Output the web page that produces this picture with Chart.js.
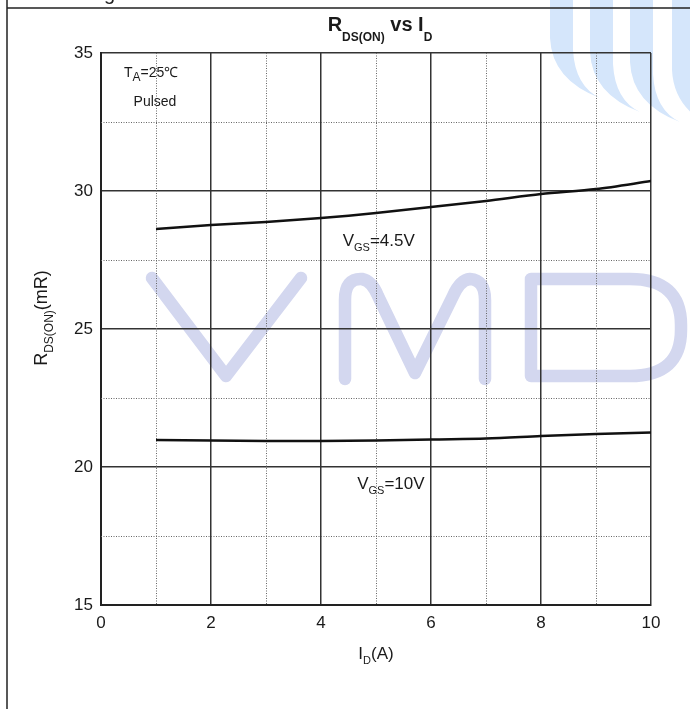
<!DOCTYPE html>
<html>
<head>
<meta charset="utf-8">
<script src="https://cdn.jsdelivr.net/npm/chart.js@4"></script>
<style>
  body { margin: 0; background: #fff; }
  canvas { display: block; }
</style>
</head>
<body>
<canvas id="rds-chart" width="690" height="709"></canvas>
<script>
const FONT = '"Liberation Sans", Arial, sans-serif';

// drain current (A) and on-resistance (mR) for both gate drives
const currents = [1, 2, 3, 4, 5, 6, 7, 8, 9, 10];
const rdsVgs45 = [28.62, 28.77, 28.88, 29.02, 29.2, 29.42, 29.64, 29.89, 30.07, 30.36];
const rdsVgs10 = [20.98, 20.96, 20.94, 20.94, 20.96, 21.0, 21.03, 21.12, 21.2, 21.25];

// axis ranges and tick steps
const xRange = [0, 10];
const yRange = [15, 35];
const xStep = 1;
const yStep = 2.5;

function toPoints(ys) {
    return currents.map((x, i) => ({ x: x, y: ys[i] }));
}

// draws text where some pieces are subscripts, e.g. [["R"], ["DS(ON)", true]]
function drawParts(ctx, parts, x, y, opts) {
    const size = opts.size;
    const subSize = opts.subSize || Math.round(size * 0.68);
    const weight = opts.bold ? "bold " : "";
    const drop = opts.drop || size * 0.35;
    let total = 0;
    parts.forEach((p) => {
        ctx.font = weight + (p[1] ? subSize : size) + "px " + FONT;
        total += ctx.measureText(p[0]).width;
    });
    let cx = opts.align === "center" ? x - total / 2 : x;
    ctx.textAlign = "left";
    ctx.textBaseline = "alphabetic";
    parts.forEach((p) => {
        ctx.font = weight + (p[1] ? subSize : size) + "px " + FONT;
        ctx.fillText(p[0], cx, p[1] ? y + drop : y);
        cx += ctx.measureText(p[0]).width;
    });
}

const decor = {
    id: "decor",
    beforeDraw(chart) {
        const ctx = chart.ctx;
        ctx.save();

        // light blue stripes in the top right corner
        ctx.fillStyle = "#d5e6fb";
        const bands = [
            { left: 550, tipX: 600, tipY: 98 },
            { left: 590, tipX: 640, tipY: 112 },
            { left: 630, tipX: 680, tipY: 122 },
            { left: 672, tipX: 720, tipY: 130 }
        ];
        bands.forEach((b) => {
            const w = 23;
            ctx.beginPath();
            ctx.moveTo(b.left, 0);
            ctx.lineTo(b.left + w, 0);
            ctx.lineTo(b.left + w, b.tipY - 48);
            ctx.quadraticCurveTo(b.left + w + 2, b.tipY - 12, b.tipX, b.tipY);
            ctx.quadraticCurveTo(b.left + 2, b.tipY - 18, b.left, b.tipY - 60);
            ctx.closePath();
            ctx.fill();
        });

        // VMD watermark
        ctx.strokeStyle = "#d3d7ef";
        ctx.lineWidth = 12.5;
        ctx.lineCap = "round";
        ctx.lineJoin = "round";
        ctx.beginPath();
        ctx.moveTo(152, 278);
        ctx.lineTo(226, 376);
        ctx.lineTo(301, 278);
        ctx.stroke();

        ctx.beginPath();
        ctx.moveTo(345, 379);
        ctx.lineTo(345, 300);
        ctx.quadraticCurveTo(345, 278, 362, 279);
        ctx.quadraticCurveTo(372, 281, 378, 296);
        ctx.lineTo(415, 373);
        ctx.lineTo(453, 296);
        ctx.quadraticCurveTo(460, 280, 470, 279);
        ctx.quadraticCurveTo(485, 280, 485, 300);
        ctx.lineTo(485, 379);
        ctx.stroke();

        ctx.beginPath();
        ctx.moveTo(531, 279);
        ctx.lineTo(531, 376);
        ctx.lineTo(630, 376);
        ctx.quadraticCurveTo(681, 376, 681, 330);
        ctx.lineTo(681, 325);
        ctx.quadraticCurveTo(681, 279, 630, 279);
        ctx.closePath();
        ctx.stroke();

        // page frame and the clipped caption line above it
        ctx.strokeStyle = "#222";
        ctx.lineWidth = 1.5;
        ctx.lineCap = "butt";
        ctx.beginPath();
        ctx.moveTo(7, 0);
        ctx.lineTo(7, 709);
        ctx.moveTo(7, 8);
        ctx.lineTo(690, 8);
        ctx.stroke();
        ctx.fillStyle = "#222";
        ctx.font = "20px " + FONT;
        ctx.fillText("g", 104, 0);

        ctx.restore();
    },
    beforeDatasetsDraw(chart) {
        const ctx = chart.ctx;
        const area = chart.chartArea;
        const xs = chart.scales.x;
        const ys = chart.scales.y;
        ctx.save();
        // dotted minor grid
        ctx.strokeStyle = "#666";
        ctx.lineWidth = 1;
        ctx.setLineDash([1, 1.5]);
        ctx.beginPath();
        xs.ticks.forEach((t) => {
            if (t.value % 2 !== 0) {
                const px = Math.round(xs.getPixelForValue(t.value)) + 0.5;
                ctx.moveTo(px, area.top);
                ctx.lineTo(px, area.bottom);
            }
        });
        ys.ticks.forEach((t) => {
            if (t.value % 5 !== 0) {
                const py = Math.round(ys.getPixelForValue(t.value)) + 0.5;
                ctx.moveTo(area.left, py);
                ctx.lineTo(area.right, py);
            }
        });
        ctx.stroke();
        ctx.restore();
    },
    afterDraw(chart) {
        const ctx = chart.ctx;
        const xs = chart.scales.x;
        const ys = chart.scales.y;
        const area = chart.chartArea;
        ctx.save();
        ctx.fillStyle = "#1a1a1a";

        // title
        drawParts(ctx, [["R"], ["DS(ON)", true], [" vs I"], ["D", true]],
            (area.left + area.right) / 2 + 4, 31, { size: 20, subSize: 12, bold: true, align: "center", drop: 10 });

        // axis titles
        drawParts(ctx, [["I"], ["D", true], ["(A)"]],
            (area.left + area.right) / 2, 659, { size: 17, subSize: 11, align: "center", drop: 5 });
        ctx.save();
        ctx.translate(47, 318);
        ctx.rotate(-Math.PI / 2);
        drawParts(ctx, [["R"], ["DS(ON)", true], ["(mR)"]], 0, 0, { size: 18, subSize: 12, align: "center", drop: 6 });
        ctx.restore();

        // condition notes
        drawParts(ctx, [["T"], ["A", true], ["=25\u2103"]], 124, 77, { size: 14, subSize: 12, align: "left", drop: 4 });
        drawParts(ctx, [["Pulsed"]], 155, 106, { size: 14, align: "center" });

        // curve labels
        drawParts(ctx, [["V"], ["GS", true], ["=4.5V"]], xs.getPixelForValue(5.05), ys.getPixelForValue(28.0), { size: 17, subSize: 11, align: "center", drop: 5 });
        drawParts(ctx, [["V"], ["GS", true], ["=10V"]], xs.getPixelForValue(5.27), ys.getPixelForValue(19.2), { size: 17, subSize: 11, align: "center", drop: 5 });

        ctx.restore();
    }
};

const ctx = document.getElementById("rds-chart").getContext("2d");
new Chart(ctx, {
    type: "line",
    data: {
        datasets: [
            {
                label: "VGS=4.5V",
                data: toPoints(rdsVgs45),
                borderColor: "#111",
                borderWidth: 2.5,
                pointRadius: 0,
                tension: 0.3,
                fill: false
            },
            {
                label: "VGS=10V",
                data: toPoints(rdsVgs10),
                borderColor: "#111",
                borderWidth: 2.5,
                pointRadius: 0,
                tension: 0.3,
                fill: false
            }
        ]
    },
    options: {
        responsive: false,
        animation: false,
        layout: { padding: { left: 41, right: 39, top: 53, bottom: 0 } },
        scales: {
            x: {
                type: "linear",
                min: xRange[0],
                max: xRange[1],
                afterFit: (s) => { s.height = 104; },
                ticks: {
                    stepSize: xStep,
                    autoSkip: false,
                    maxRotation: 0,
                    padding: 8,
                    color: "#1a1a1a",
                    font: { family: FONT, size: 17 },
                    callback: (v) => (v % 2 === 0 ? v : "")
                },
                grid: {
                    drawTicks: false,
                    lineWidth: 1.5,
                    color: (c) => (c.tick && c.tick.value % 2 === 0 ? "#333" : "rgba(0,0,0,0)")
                },
                border: { color: "#222", width: 2 }
            },
            y: {
                min: yRange[0],
                max: yRange[1],
                afterFit: (s) => { s.width = 60; },
                ticks: {
                    stepSize: yStep,
                    autoSkip: false,
                    padding: 8,
                    color: "#1a1a1a",
                    font: { family: FONT, size: 17 },
                    callback: (v) => (v % 5 === 0 ? v : "")
                },
                grid: {
                    drawTicks: false,
                    lineWidth: 1.5,
                    color: (c) => (c.tick && c.tick.value % 5 === 0 ? "#333" : "rgba(0,0,0,0)")
                },
                border: { color: "#222", width: 2 }
            }
        },
        plugins: {
            legend: { display: false },
            tooltip: { enabled: false }
        }
    },
    plugins: [decor]
});
</script>
</body>
</html>
